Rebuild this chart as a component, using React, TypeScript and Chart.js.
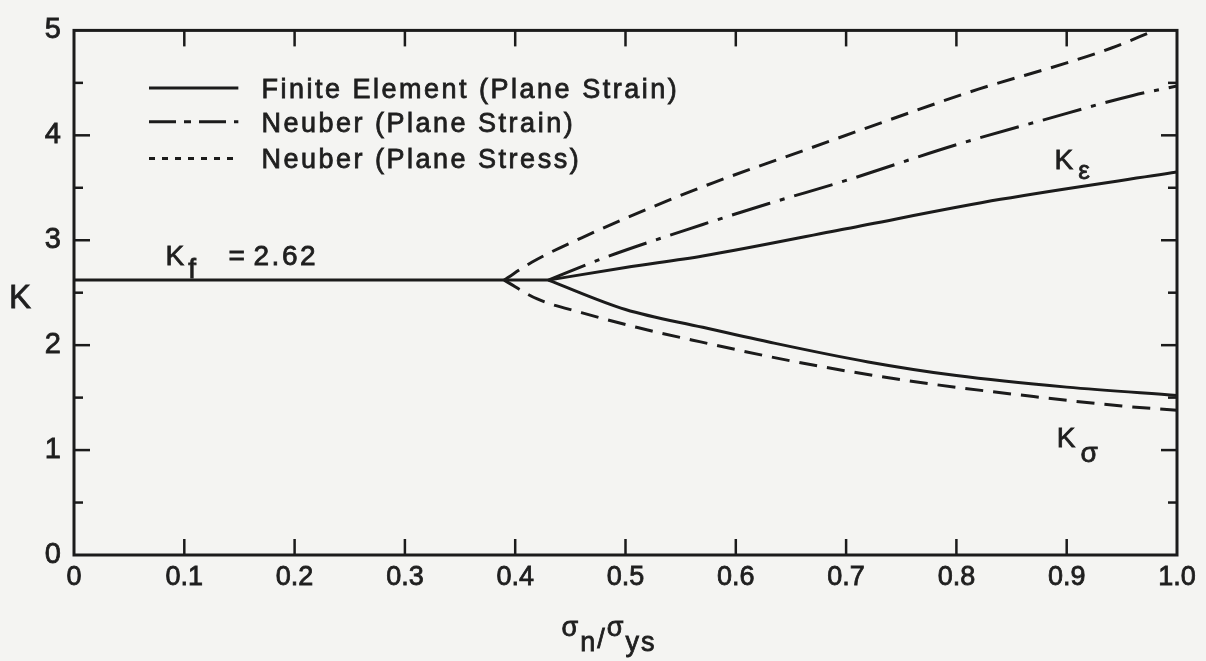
import React, { useEffect, useRef } from 'react';
import { Chart, registerables } from 'chart.js';

Chart.register(...registerables);

// ---- tick labels ----
const xTickLabels = ['0', '0.1', '0.2', '0.3', '0.4', '0.5', '0.6', '0.7', '0.8', '0.9', '1.0'];
const yTickLabels = ['0', '1', '2', '3', '4', '5'];

// ---- series (x = sigma_n / sigma_ys, y = K) ----
// Finite element, elastic plateau K_f = 2.62
const feFlatX = [0, 0.43];
const feFlatY = [2.62, 2.62];
// Finite element (plane strain), K_epsilon branch
const feStrainX = [0.43, 0.5, 0.57, 0.7, 0.84, 1.0];
const feStrainY = [2.62, 2.74, 2.85, 3.11, 3.39, 3.65];
// Finite element (plane strain), K_sigma branch
const feStressX = [0.43, 0.5, 0.57, 0.63, 0.72, 0.8, 0.9, 1.0];
const feStressY = [2.62, 2.34, 2.17, 2.03, 1.84, 1.71, 1.6, 1.52];
// Neuber (plane strain), K_epsilon
const neuberStrainX = [0.43, 0.48, 0.57, 0.63, 0.7, 0.8, 0.88, 0.96, 1.0];
const neuberStrainY = [2.62, 2.83, 3.15, 3.35, 3.57, 3.91, 4.15, 4.38, 4.47];
// Neuber (plane stress), K_epsilon
const neuberStressKeX = [0.39, 0.415, 0.47, 0.525, 0.58, 0.66, 0.74, 0.82, 0.9, 0.94, 0.98];
const neuberStressKeY = [2.62, 2.79, 3.07, 3.32, 3.55, 3.85, 4.15, 4.44, 4.69, 4.83, 5.0];
// Neuber (plane stress), K_sigma
const neuberStressKsX = [0.39, 0.42, 0.46, 0.51, 0.56, 0.65, 0.75, 0.87, 0.95, 1.0];
const neuberStressKsY = [2.62, 2.44, 2.31, 2.17, 2.05, 1.85, 1.67, 1.51, 1.42, 1.38];

const legendLabels = ['Finite Element (Plane Strain)', 'Neuber (Plane Strain)', 'Neuber (Plane Stress)'];

const INK = '#1b1b1b';
const TEXT = '#1e1e1e';
const BG = '#f4f4f2';
const FONT = '"Liberation Sans", Arial, Helvetica, sans-serif';

const DASH_STRESS = [18, 10];
const DASH_STRAIN = [40, 10, 5, 10];

function pts(xs: number[], ys: number[]) {
  return xs.map((x, i) => ({ x, y: ys[i] }));
}

function ds(label: string, xs: number[], ys: number[], dash: number[]) {
  return {
    label,
    data: pts(xs, ys),
    borderColor: INK,
    backgroundColor: INK,
    borderWidth: 3,
    borderDash: dash,
    borderCapStyle: 'butt' as const,
    borderJoinStyle: 'round' as const,
    pointRadius: 0,
    fill: false,
    cubicInterpolationMode: 'monotone' as const,
  };
}

const decorPlugin = {
  id: 'decor',
  afterDatasetsDraw(chart: any) {
    const { ctx, chartArea: a, scales } = chart;
    const xs = scales.x;
    const ys = scales.y;
    const line = (x1: number, y1: number, x2: number, y2: number) => {
      ctx.beginPath();
      ctx.moveTo(x1, y1);
      ctx.lineTo(x2, y2);
      ctx.stroke();
    };
    const text = (s: string, x: number, y: number, size: number, spacing = 0, align: CanvasTextAlign = 'left') => {
      ctx.font = `${size}px ${FONT}`;
      (ctx as any).letterSpacing = `${spacing}px`;
      ctx.textAlign = align;
      ctx.textBaseline = 'alphabetic';
      ctx.save();
      ctx.setLineDash([]);
      ctx.lineWidth = 0.8;
      ctx.strokeStyle = TEXT;
      ctx.strokeText(s, x, y);
      ctx.restore();
      ctx.fillText(s, x, y);
      const w = ctx.measureText(s).width;
      (ctx as any).letterSpacing = '0px';
      return w;
    };

    ctx.save();
    ctx.strokeStyle = INK;
    ctx.fillStyle = TEXT;
    ctx.setLineDash([]);

    // frame
    ctx.lineWidth = 3;
    ctx.strokeRect(a.left, a.top, a.right - a.left, a.bottom - a.top);

    // inward ticks
    ctx.lineWidth = 2.5;
    for (let i = 1; i < 10; i++) {
      const py = ys.getPixelForValue(i / 2);
      const len = i % 2 === 0 ? 16 : 9;
      line(a.left, py, a.left + len, py);
      line(a.right, py, a.right - len, py);
    }
    for (let i = 1; i < 10; i++) {
      const px = xs.getPixelForValue(i / 10);
      line(px, a.bottom, px, a.bottom - 16);
      line(px, a.top, px, a.top + 16);
    }

    // legend
    const lx1 = xs.getPixelForValue(0.068);
    const lx2 = xs.getPixelForValue(0.149);
    const tx = xs.getPixelForValue(0.17);
    const rows = [4.45, 4.13, 3.78];
    const dashes = [[], [27, 8, 7, 8], [6, 7]];
    rows.forEach((v, i) => {
      const py = ys.getPixelForValue(v);
      ctx.lineWidth = 3;
      ctx.strokeStyle = INK;
      ctx.setLineDash(dashes[i]);
      line(lx1, py, lx2, py);
      ctx.setLineDash([]);
      text(legendLabels[i], tx, py + 10, 27, 2.5);
    });

    // K_f = 2.62
    {
      const kx = xs.getPixelForValue(0.083);
      const ky = ys.getPixelForValue(2.76);
      const w = text('K', kx, ky, 28, 0);
      text('f', kx + w + 4, ky + 13, 28, 0);
      text('=', kx + 63, ky, 28, 0);
      text('2.62', kx + 88, ky, 28, 2.5);
    }
    // K_epsilon
    {
      const kx = xs.getPixelForValue(0.889);
      const ky = ys.getPixelForValue(3.68);
      const w = text('K', kx, ky, 28, 0);
      text('ε', kx + w + 5, ky + 10, 26, 0);
    }
    // K_sigma
    {
      const kx = xs.getPixelForValue(0.891);
      const ky = ys.getPixelForValue(1.03);
      const w = text('K', kx, ky, 28, 0);
      text('σ', kx + w + 5, ky + 15, 28, 0);
    }

    // y-axis title
    text('K', 20, ys.getPixelForValue(2.47) + 12, 33, 0, 'center');

    // x-axis title  σn/σys
    {
      const parts = [
        { t: 'σ', dy: 0 },
        { t: 'n', dy: 15 },
        { t: '/', dy: 12 },
        { t: 'σ', dy: 0 },
        { t: 'ys', dy: 15 },
      ];
      ctx.font = `27px ${FONT}`;
      (ctx as any).letterSpacing = '2px';
      const widths = parts.map((p) => ctx.measureText(p.t).width);
      const total = widths.reduce((s, w) => s + w, 0);
      (ctx as any).letterSpacing = '0px';
      let cx = xs.getPixelForValue(0.485) - total / 2;
      const base = a.bottom + 81;
      parts.forEach((p, i) => {
        text(p.t, cx, base + p.dy, 27, 2);
        cx += widths[i];
      });
    }

    ctx.restore();
  },
};

export default function App() {
  const canvasRef = useRef<HTMLCanvasElement | null>(null);

  useEffect(() => {
    document.body.style.margin = '0';
    document.body.style.background = BG;
    const canvas = canvasRef.current;
    if (!canvas) return;
    const chart = new Chart(canvas, {
      type: 'line',
      data: {
        datasets: [
          ds('Finite Element (Plane Strain)', feFlatX, feFlatY, []),
          ds('Finite Element (Plane Strain) Kε', feStrainX, feStrainY, []),
          ds('Finite Element (Plane Strain) Kσ', feStressX, feStressY, []),
          ds('Neuber (Plane Strain)', neuberStrainX, neuberStrainY, DASH_STRAIN),
          ds('Neuber (Plane Stress) Kε', neuberStressKeX, neuberStressKeY, DASH_STRESS),
          ds('Neuber (Plane Stress) Kσ', neuberStressKsX, neuberStressKsY, DASH_STRESS),
        ] as any,
      },
      options: {
        animation: false,
        responsive: false,
        layout: { padding: { top: 18, right: 29, left: 0, bottom: 0 } },
        plugins: {
          legend: { display: false },
          tooltip: { enabled: false },
          title: { display: false },
        },
        scales: {
          x: {
            type: 'linear',
            min: 0,
            max: 1,
            grid: { display: false, drawTicks: false },
            border: { display: false },
            ticks: {
              stepSize: 0.1,
              autoSkip: false,
              maxRotation: 0,
              padding: 6,
              color: TEXT,
              textStrokeColor: TEXT,
              textStrokeWidth: 0.8,
              font: { family: FONT, size: 27 },
              callback: (_v: any, i: number) => xTickLabels[i],
            },
            afterFit: (scale: any) => {
              scale.height = 106;
            },
          },
          y: {
            type: 'linear',
            min: 0,
            max: 5,
            grid: { display: false, drawTicks: false },
            border: { display: false },
            ticks: {
              stepSize: 1,
              autoSkip: false,
              padding: 13,
              color: TEXT,
              textStrokeColor: TEXT,
              textStrokeWidth: 0.8,
              font: { family: FONT, size: 29 },
              callback: (_v: any, i: number) => yTickLabels[i],
            },
            afterFit: (scale: any) => {
              scale.width = 74;
            },
          },
        },
      } as any,
      plugins: [decorPlugin],
    });
    return () => chart.destroy();
  }, []);

  return (
    <div style={{ position: 'fixed', left: 0, top: 0, width: 1206, height: 661, background: BG }}>
      <canvas ref={canvasRef} width={1206} height={661} style={{ display: 'block' }} />
    </div>
  );
}
